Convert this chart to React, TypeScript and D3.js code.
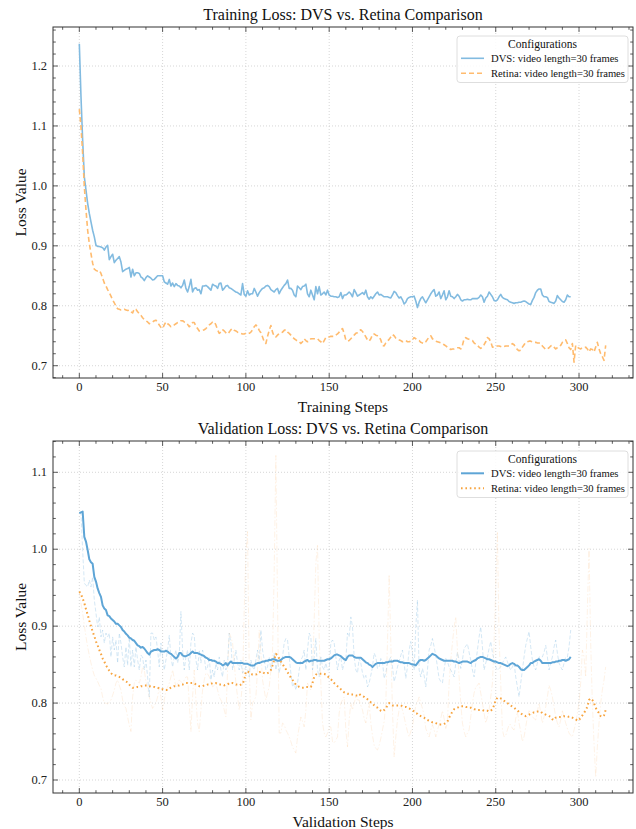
import React from 'react';
import * as d3 from 'd3';

// training loss per step (index = step)
const trainDvs = [
  1.237, 1.149, 1.076, 1.015, 0.993, 0.971, 0.954, 0.940, 0.926, 0.915,
  0.901, 0.899, 0.899, 0.898, 0.897, 0.893, 0.898, 0.901, 0.877, 0.882,
  0.886, 0.872, 0.876, 0.879, 0.882, 0.873, 0.857, 0.859, 0.861, 0.862,
  0.864, 0.848, 0.861, 0.850, 0.855, 0.855, 0.854, 0.848, 0.846, 0.842,
  0.847, 0.850, 0.848, 0.846, 0.843, 0.844, 0.847, 0.850, 0.850, 0.850,
  0.850, 0.840, 0.838, 0.836, 0.844, 0.833, 0.838, 0.832, 0.837, 0.834,
  0.833, 0.830, 0.834, 0.843, 0.829, 0.823, 0.832, 0.844, 0.823, 0.829,
  0.830, 0.826, 0.827, 0.820, 0.833, 0.833, 0.834, 0.832, 0.829, 0.826,
  0.836, 0.834, 0.833, 0.829, 0.837, 0.838, 0.826, 0.829, 0.833, 0.834,
  0.830, 0.829, 0.827, 0.825, 0.823, 0.822, 0.820, 0.818, 0.837, 0.819,
  0.816, 0.825, 0.818, 0.820, 0.820, 0.829, 0.823, 0.816, 0.822, 0.826,
  0.829, 0.830, 0.833, 0.834, 0.832, 0.827, 0.825, 0.823, 0.827, 0.829,
  0.820, 0.826, 0.830, 0.834, 0.837, 0.843, 0.829, 0.829, 0.826, 0.818,
  0.815, 0.833, 0.830, 0.827, 0.832, 0.833, 0.836, 0.820, 0.815, 0.826,
  0.818, 0.810, 0.832, 0.820, 0.832, 0.818, 0.820, 0.823, 0.818, 0.826,
  0.818, 0.816, 0.816, 0.815, 0.815, 0.814, 0.815, 0.822, 0.812, 0.818,
  0.818, 0.820, 0.823, 0.820, 0.815, 0.827, 0.822, 0.816,
  0.818, 0.820, 0.822, 0.819, 0.826, 0.815, 0.811, 0.815, 0.812, 0.816,
  0.820, 0.823, 0.818, 0.819, 0.817, 0.815, 0.815, 0.815, 0.814, 0.813,
  0.818, 0.824, 0.822, 0.817, 0.813, 0.815, 0.810, 0.803, 0.806, 0.812,
  0.814, 0.815, 0.815, 0.816, 0.808, 0.797, 0.806, 0.812, 0.815, 0.810,
  0.805, 0.810, 0.815, 0.820, 0.824, 0.827, 0.816, 0.818, 0.823, 0.812,
  0.818, 0.825, 0.810, 0.815, 0.825, 0.816, 0.815, 0.812, 0.815, 0.819,
  0.816, 0.810, 0.808, 0.810, 0.810, 0.811, 0.810, 0.810, 0.812, 0.812,
  0.812, 0.812, 0.814, 0.818, 0.815, 0.806, 0.813, 0.816, 0.823, 0.819,
  0.815, 0.809, 0.808, 0.810, 0.815, 0.819, 0.814, 0.812, 0.811, 0.810,
  0.807, 0.806, 0.805, 0.804, 0.805, 0.805, 0.806, 0.806, 0.807, 0.808,
  0.807, 0.805, 0.803, 0.802, 0.809, 0.814, 0.822, 0.826, 0.828, 0.828,
  0.818, 0.815, 0.815, 0.814, 0.807, 0.806, 0.805, 0.804, 0.808, 0.817,
  0.813, 0.810, 0.807, 0.806, 0.810, 0.818, 0.815, 0.815,
];

const trainRetina = [
  1.128, 1.099, 1.054, 0.999, 0.960, 0.926, 0.904, 0.887, 0.871, 0.861,
  0.859, 0.858, 0.859, 0.854, 0.846, 0.838, 0.833, 0.827, 0.822, 0.816,
  0.810, 0.805, 0.799, 0.795, 0.794, 0.793, 0.793, 0.794, 0.793, 0.792,
  0.793, 0.790, 0.788, 0.795, 0.794, 0.790, 0.787, 0.784, 0.780, 0.777,
  0.775, 0.773, 0.770, 0.772, 0.773, 0.775, 0.776, 0.772, 0.768, 0.764,
  0.762, 0.768, 0.773, 0.770, 0.768, 0.765, 0.766, 0.768, 0.770, 0.772,
  0.773, 0.775, 0.775, 0.773, 0.772, 0.769, 0.765, 0.768, 0.772, 0.772,
  0.766, 0.762, 0.758, 0.758, 0.759, 0.760, 0.762, 0.765, 0.768, 0.770,
  0.773, 0.773, 0.768, 0.760, 0.754, 0.756, 0.760, 0.758, 0.755, 0.753,
  0.756, 0.760, 0.762, 0.759, 0.758, 0.756, 0.755, 0.754, 0.753, 0.753,
  0.754, 0.753, 0.754, 0.756, 0.760, 0.765, 0.768, 0.765, 0.759, 0.755,
  0.748, 0.740, 0.737, 0.749, 0.759, 0.767, 0.756, 0.749, 0.748, 0.751,
  0.754, 0.755, 0.756, 0.759, 0.760, 0.756, 0.754, 0.751, 0.748, 0.745,
  0.743, 0.741, 0.740, 0.737, 0.740, 0.745, 0.742, 0.740, 0.741, 0.745,
  0.745, 0.745, 0.745, 0.745, 0.742, 0.740, 0.737, 0.742, 0.747, 0.748,
  0.748, 0.749, 0.749, 0.749, 0.751, 0.753, 0.756, 0.760, 0.762, 0.754,
  0.743, 0.741, 0.742, 0.745, 0.748, 0.751, 0.754, 0.755,
  0.758, 0.760, 0.757, 0.753, 0.748, 0.743, 0.741, 0.745, 0.752, 0.753,
  0.751, 0.750, 0.748, 0.743, 0.734, 0.733, 0.738, 0.741, 0.744, 0.748,
  0.752, 0.750, 0.746, 0.744, 0.743, 0.742, 0.740, 0.741, 0.742, 0.740,
  0.740, 0.741, 0.743, 0.747, 0.745, 0.743, 0.742, 0.739, 0.738, 0.737,
  0.740, 0.744, 0.748, 0.750, 0.745, 0.743, 0.741, 0.740, 0.739, 0.738,
  0.737, 0.735, 0.733, 0.731, 0.729, 0.727, 0.728, 0.728, 0.729, 0.730,
  0.730, 0.728, 0.734, 0.745, 0.747, 0.745, 0.744, 0.743, 0.742, 0.738,
  0.736, 0.734, 0.731, 0.729, 0.731, 0.735, 0.740, 0.747, 0.745, 0.740,
  0.731, 0.731, 0.732, 0.733, 0.733, 0.732, 0.731, 0.732, 0.733, 0.733,
  0.733, 0.734, 0.737, 0.735, 0.730, 0.727, 0.725, 0.726, 0.731, 0.735,
  0.739, 0.740, 0.741, 0.741, 0.740, 0.739, 0.739, 0.738, 0.738, 0.737,
  0.733, 0.730, 0.727, 0.728, 0.730, 0.733, 0.734, 0.731, 0.728, 0.730,
  0.731, 0.734, 0.739, 0.741, 0.743, 0.737, 0.730, 0.727, 0.737, 0.706,
  0.734, 0.731, 0.729, 0.728, 0.730, 0.730, 0.731, 0.728, 0.723, 0.728,
  0.727, 0.723, 0.731, 0.739, 0.728, 0.720, 0.715, 0.709, 0.734,
];

// validation loss per step: raw and smoothed
const valDvsRaw = [
  1.047, 1.047, 0.999, 0.956, 0.953, 0.951, 0.960, 0.951, 0.964, 0.934,
  0.917, 0.899, 0.912, 0.886, 0.895, 0.878, 0.891, 0.886, 0.891, 0.860,
  0.886, 0.869, 0.882, 0.852, 0.891, 0.878, 0.860, 0.847, 0.873, 0.849,
  0.886, 0.847, 0.869, 0.847, 0.873, 0.856, 0.843, 0.862, 0.860, 0.843,
  0.856, 0.834, 0.808, 0.891, 0.891, 0.882, 0.886, 0.869, 0.847, 0.878,
  0.860, 0.843, 0.856, 0.869, 0.888, 0.860, 0.847, 0.860, 0.869, 0.852,
  0.862, 0.919, 0.869, 0.843, 0.860, 0.869, 0.843, 0.878, 0.891, 0.888,
  0.856, 0.843, 0.869, 0.852, 0.869, 0.860, 0.843, 0.847, 0.860, 0.830,
  0.843, 0.834, 0.852, 0.843, 0.860, 0.843, 0.834, 0.856, 0.843, 0.852,
  0.891, 0.878, 0.843, 0.856, 0.869, 0.852, 0.843, 0.856, 0.839, 0.843,
  0.847, 0.843, 0.834, 0.856, 0.847, 0.843, 0.856, 0.869, 0.852, 0.895,
  0.869, 0.856, 0.843, 0.847, 0.860, 0.843, 0.852, 0.865, 0.843, 0.856,
  0.839, 0.852, 0.860, 0.878, 0.884, 0.882, 0.860, 0.839, 0.821, 0.826,
  0.817, 0.826, 0.843, 0.856, 0.860, 0.869, 0.843, 0.869, 0.891, 0.886,
  0.843, 0.860, 0.884, 0.843, 0.834, 0.860, 0.847, 0.843, 0.852, 0.843,
  0.843, 0.878, 0.882, 0.878, 0.860, 0.843, 0.856, 0.860, 0.843, 0.852,
  0.856, 0.891, 0.886, 0.912, 0.899, 0.860, 0.843, 0.839,
  0.858, 0.852, 0.839, 0.832, 0.836, 0.821, 0.826, 0.836, 0.847, 0.865,
  0.860, 0.845, 0.847, 0.858, 0.854, 0.832, 0.839, 0.852, 0.856, 0.860,
  0.847, 0.828, 0.836, 0.847, 0.854, 0.862, 0.869, 0.852, 0.832, 0.847,
  0.869, 0.880, 0.865, 0.843, 0.899, 0.934, 0.843, 0.834, 0.845, 0.836,
  0.821, 0.843, 0.869, 0.875, 0.884, 0.873, 0.862, 0.847, 0.832, 0.828,
  0.826, 0.843, 0.858, 0.854, 0.847, 0.843, 0.839, 0.834, 0.852, 0.866,
  0.856, 0.845, 0.856, 0.871, 0.874, 0.877, 0.866, 0.856, 0.843, 0.834,
  0.852, 0.869, 0.886, 0.899, 0.873, 0.843, 0.852, 0.860, 0.871, 0.880,
  0.866, 0.856, 0.847, 0.843, 0.845, 0.847, 0.852, 0.856, 0.860, 0.854,
  0.847, 0.843, 0.847, 0.852, 0.834, 0.821, 0.808, 0.826, 0.843, 0.860,
  0.875, 0.884, 0.893, 0.873, 0.856, 0.847, 0.843, 0.852, 0.860, 0.860,
  0.860, 0.866, 0.875, 0.860, 0.843, 0.852, 0.860, 0.873, 0.882, 0.865,
  0.852, 0.847, 0.843, 0.852, 0.860, 0.860, 0.873, 0.895,
];

const valDvsSmooth = [
  1.047, 1.048, 1.049, 1.016, 1.010, 0.999, 0.987, 0.983, 0.981, 0.964,
  0.958, 0.949, 0.943, 0.938, 0.927, 0.923, 0.921, 0.914, 0.913, 0.910,
  0.908, 0.906, 0.903, 0.903, 0.901, 0.899, 0.895, 0.893, 0.890, 0.888,
  0.885, 0.884, 0.882, 0.881, 0.878, 0.875, 0.874, 0.872, 0.873, 0.871,
  0.868, 0.865, 0.863, 0.867, 0.868, 0.869, 0.869, 0.870, 0.869, 0.867,
  0.867, 0.867, 0.868, 0.867, 0.865, 0.864, 0.862, 0.860, 0.858, 0.860,
  0.865, 0.865, 0.862, 0.861, 0.861, 0.862, 0.863, 0.865, 0.867, 0.865,
  0.865, 0.865, 0.864, 0.863, 0.862, 0.861, 0.859, 0.858, 0.856, 0.856,
  0.855, 0.855, 0.854, 0.852, 0.852, 0.851, 0.849, 0.850, 0.852, 0.849,
  0.852, 0.854, 0.852, 0.852, 0.852, 0.852, 0.852, 0.852, 0.852, 0.851,
  0.851, 0.851, 0.850, 0.849, 0.849, 0.849, 0.851, 0.852, 0.852, 0.853,
  0.854, 0.854, 0.855, 0.855, 0.856, 0.856, 0.857, 0.857, 0.856, 0.855,
  0.855, 0.856, 0.858, 0.859, 0.860, 0.860, 0.860, 0.859, 0.857, 0.855,
  0.853, 0.852, 0.852, 0.852, 0.852, 0.854, 0.855, 0.856, 0.854, 0.855,
  0.855, 0.856, 0.856, 0.855, 0.855, 0.855, 0.855, 0.855, 0.856, 0.857,
  0.857, 0.858, 0.860, 0.862, 0.863, 0.863, 0.862, 0.861, 0.859, 0.857,
  0.856, 0.860, 0.862, 0.862, 0.862, 0.860, 0.859, 0.859,
  0.859, 0.859, 0.857, 0.855, 0.853, 0.852, 0.850, 0.849, 0.847, 0.849,
  0.851, 0.852, 0.852, 0.852, 0.852, 0.852, 0.853, 0.853, 0.854, 0.854,
  0.854, 0.855, 0.855, 0.855, 0.854, 0.853, 0.853, 0.852, 0.852, 0.852,
  0.852, 0.851, 0.850, 0.850, 0.849, 0.852, 0.855, 0.856, 0.856, 0.855,
  0.856, 0.858, 0.860, 0.862, 0.864, 0.863, 0.862, 0.860, 0.858, 0.857,
  0.856, 0.855, 0.855, 0.855, 0.855, 0.855, 0.855, 0.854, 0.854, 0.853,
  0.852, 0.853, 0.854, 0.854, 0.854, 0.854, 0.853, 0.852, 0.854, 0.855,
  0.856, 0.858, 0.859, 0.860, 0.860, 0.859, 0.858, 0.857, 0.857, 0.856,
  0.855, 0.854, 0.854, 0.853, 0.852, 0.852, 0.851, 0.850, 0.849, 0.848,
  0.849, 0.851, 0.852, 0.851, 0.849, 0.849, 0.847, 0.844, 0.843, 0.843,
  0.845, 0.847, 0.849, 0.852, 0.852, 0.854, 0.855, 0.856, 0.857, 0.855,
  0.852, 0.852, 0.852, 0.852, 0.852, 0.852, 0.853, 0.853, 0.854, 0.854,
  0.855, 0.855, 0.856, 0.856, 0.855, 0.856, 0.857, 0.860,
];

const valRetinaRaw = [
  0.945, 0.930, 0.917, 0.901, 0.886, 0.873, 0.862, 0.852, 0.843, 0.836,
  0.832, 0.828, 0.823, 0.819, 0.808, 0.800, 0.800, 0.799, 0.801, 0.804,
  0.810, 0.817, 0.826, 0.830, 0.823, 0.817, 0.804, 0.797, 0.793, 0.782,
  0.771, 0.763, 0.808, 0.826, 0.830, 0.828, 0.826, 0.834, 0.847, 0.843,
  0.828, 0.819, 0.808, 0.800, 0.793, 0.797, 0.800, 0.808, 0.821, 0.808,
  0.791, 0.804, 0.817, 0.821, 0.826, 0.834, 0.843, 0.832, 0.821, 0.826,
  0.830, 0.828, 0.826, 0.830, 0.834, 0.834, 0.800, 0.763, 0.808, 0.843,
  0.804, 0.774, 0.763, 0.791, 0.817, 0.830, 0.839, 0.838, 0.834, 0.828,
  0.821, 0.823, 0.826, 0.817, 0.808, 0.804, 0.800, 0.791, 0.782, 0.843,
  0.891, 0.886, 0.878, 0.852, 0.826, 0.808, 0.791, 0.804, 0.826, 0.921,
  0.995, 1.023, 0.843, 0.778, 0.800, 0.804, 0.808, 0.843, 0.895, 0.865,
  0.830, 0.817, 0.804, 0.813, 0.821, 0.843, 0.865, 0.973, 1.122, 0.930,
  0.761, 0.761, 0.774, 0.772, 0.765, 0.761, 0.756, 0.750, 0.743, 0.739,
  0.735, 0.756, 0.769, 0.782, 0.776, 0.769, 0.791, 0.826, 0.821, 0.817,
  0.834, 0.908, 0.982, 1.005, 0.886, 0.826, 0.774, 0.761, 0.756, 0.761,
  0.769, 0.769, 0.750, 0.748, 0.752, 0.756, 0.787, 0.800, 0.804, 0.808,
  0.765, 0.743, 0.778, 0.800, 0.791, 0.800, 0.808, 0.804,
  0.804, 0.797, 0.791, 0.780, 0.774, 0.787, 0.800, 0.774, 0.758, 0.745,
  0.741, 0.739, 0.745, 0.754, 0.765, 0.776, 0.800, 0.878, 0.967, 0.878,
  0.791, 0.730, 0.756, 0.778, 0.791, 0.797, 0.791, 0.782, 0.772, 0.763,
  0.756, 0.763, 0.769, 0.784, 0.797, 0.801, 0.808, 0.800, 0.793, 0.784,
  0.767, 0.761, 0.756, 0.765, 0.772, 0.765, 0.756, 0.765, 0.772, 0.780,
  0.790, 0.780, 0.767, 0.774, 0.826, 0.856, 0.878, 0.899, 0.912, 0.869,
  0.834, 0.800, 0.774, 0.763, 0.756, 0.761, 0.765, 0.782, 0.800, 0.813,
  0.821, 0.823, 0.826, 0.813, 0.800, 0.787, 0.774, 0.782, 0.791, 0.808,
  0.826, 0.878, 0.951, 1.023, 0.886, 0.826, 0.765, 0.756, 0.758, 0.765,
  0.772, 0.772, 0.767, 0.765, 0.780, 0.789, 0.774, 0.763, 0.750, 0.756,
  0.769, 0.782, 0.790, 0.787, 0.782, 0.780, 0.778, 0.789, 0.800, 0.787,
  0.774, 0.782, 0.795, 0.808, 0.823, 0.817, 0.808, 0.795, 0.782, 0.774,
  0.769, 0.778, 0.790, 0.782, 0.774, 0.767, 0.761, 0.758, 0.756, 0.765,
  0.774, 0.787, 0.800, 0.826, 0.869, 0.860, 0.834, 0.921, 1.001, 0.878,
  0.800, 0.748, 0.704, 0.743, 0.774, 0.800, 0.817, 0.830, 0.847,
];

const valRetinaSmooth = [
  0.945, 0.942, 0.936, 0.930, 0.922, 0.915, 0.907, 0.900, 0.893, 0.887,
  0.880, 0.875, 0.869, 0.864, 0.858, 0.854, 0.849, 0.846, 0.842, 0.839,
  0.837, 0.836, 0.836, 0.835, 0.834, 0.833, 0.831, 0.830, 0.828, 0.827,
  0.824, 0.822, 0.820, 0.820, 0.820, 0.821, 0.821, 0.822, 0.822, 0.823,
  0.823, 0.823, 0.822, 0.822, 0.821, 0.821, 0.820, 0.820, 0.819, 0.818,
  0.818, 0.817, 0.817, 0.817, 0.819, 0.820, 0.821, 0.822, 0.822, 0.823,
  0.823, 0.824, 0.824, 0.825, 0.826, 0.826, 0.826, 0.826, 0.826, 0.826,
  0.824, 0.823, 0.822, 0.822, 0.822, 0.823, 0.823, 0.824, 0.824, 0.825,
  0.826, 0.826, 0.826, 0.825, 0.824, 0.824, 0.824, 0.823, 0.824, 0.824,
  0.826, 0.826, 0.826, 0.825, 0.824, 0.824, 0.823, 0.824, 0.825, 0.830,
  0.841, 0.841, 0.840, 0.838, 0.837, 0.837, 0.837, 0.839, 0.840, 0.841,
  0.840, 0.839, 0.838, 0.839, 0.840, 0.843, 0.849, 0.856, 0.864, 0.862,
  0.858, 0.854, 0.851, 0.847, 0.844, 0.840, 0.837, 0.833, 0.830, 0.827,
  0.824, 0.823, 0.821, 0.820, 0.820, 0.820, 0.821, 0.821, 0.821, 0.821,
  0.826, 0.834, 0.837, 0.838, 0.838, 0.838, 0.838, 0.838, 0.837, 0.835,
  0.833, 0.831, 0.829, 0.826, 0.824, 0.822, 0.820, 0.818, 0.816, 0.814,
  0.813, 0.812, 0.812, 0.811, 0.811, 0.811, 0.810, 0.810,
  0.812, 0.810, 0.809, 0.808, 0.806, 0.805, 0.803, 0.801, 0.800, 0.797,
  0.795, 0.794, 0.792, 0.790, 0.789, 0.791, 0.793, 0.797, 0.800, 0.798,
  0.797, 0.797, 0.797, 0.797, 0.797, 0.797, 0.796, 0.795, 0.795, 0.794,
  0.793, 0.792, 0.791, 0.789, 0.787, 0.786, 0.784, 0.783, 0.782, 0.781,
  0.779, 0.778, 0.777, 0.776, 0.775, 0.775, 0.774, 0.773, 0.772, 0.772,
  0.772, 0.773, 0.774, 0.776, 0.781, 0.785, 0.789, 0.792, 0.793, 0.794,
  0.795, 0.796, 0.796, 0.796, 0.795, 0.795, 0.794, 0.794, 0.793, 0.792,
  0.792, 0.791, 0.791, 0.791, 0.791, 0.790, 0.790, 0.790, 0.789, 0.790,
  0.792, 0.797, 0.804, 0.807, 0.807, 0.806, 0.805, 0.803, 0.801, 0.800,
  0.798, 0.797, 0.795, 0.794, 0.792, 0.791, 0.788, 0.787, 0.785, 0.784,
  0.783, 0.784, 0.785, 0.786, 0.787, 0.788, 0.788, 0.789, 0.789, 0.789,
  0.787, 0.786, 0.785, 0.784, 0.783, 0.782, 0.779, 0.778, 0.781, 0.781,
  0.782, 0.782, 0.782, 0.783, 0.783, 0.783, 0.782, 0.782, 0.781, 0.780,
  0.779, 0.777, 0.778, 0.781, 0.784, 0.787, 0.791, 0.795, 0.804, 0.806,
  0.804, 0.800, 0.794, 0.790, 0.787, 0.783, 0.782, 0.784, 0.791,
];

const xTicks = [0, 50, 100, 150, 200, 250, 300];
const trainYTicks = [0.7, 0.8, 0.9, 1.0, 1.1, 1.2];
const valYTicks = [0.7, 0.8, 0.9, 1.0, 1.1];
const legendTitle = 'Configurations';
const dvsLabel = 'DVS: video length=30 frames';
const retinaLabel = 'Retina: video length=30 frames';

const FONT = '"Liberation Serif", "Times New Roman", serif';
const W = 636;
const H = 829;
const LEFT = 53;
const RIGHT = 633;

type Series = {
  values: number[];
  color: string;
  width: number;
  dash?: string;
  opacity?: number;
  label?: string;
};

type PanelProps = {
  id: string;
  top: number;
  bottom: number;
  yDomain: [number, number];
  yTicks: number[];
  title: string;
  xLabel: string;
  series: Series[];
  legendTop: number;
};

function Panel({ id, top, bottom, yDomain, yTicks, title, xLabel, series, legendTop }: PanelProps) {
  const x = d3.scaleLinear().domain([-15.8, 332.4]).range([LEFT, RIGHT]);
  const y = d3.scaleLinear().domain(yDomain).range([bottom, top]);
  const line = d3.line<number>().x((d, i) => x(i)).y(d => y(d));

  const xMinor = d3.range(-10, 331, 10).filter(v => v % 50 !== 0);
  const kMin = Math.ceil(yDomain[0] / 0.02);
  const kMax = Math.floor(yDomain[1] / 0.02);
  const yMinor = d3.range(kMin, kMax + 1).filter(k => k % 5 !== 0).map(k => k * 0.02);

  const majorLen = 5;
  const minorLen = 2.8;
  const tickColor = '#333';
  const legendItems = series.filter(s => s.label);
  const midY = (top + bottom) / 2;
  const midX = (LEFT + RIGHT) / 2;

  return (
    <g>
      <defs>
        <clipPath id={`clip-${id}`}>
          <rect x={LEFT} y={top} width={RIGHT - LEFT} height={bottom - top} />
        </clipPath>
      </defs>

      {/* grid */}
      <g stroke="#cccccc" strokeWidth={0.8} strokeDasharray="1,2">
        {xTicks.map(t => (
          <line key={`gx${t}`} x1={x(t)} x2={x(t)} y1={top} y2={bottom} />
        ))}
        {yTicks.map(t => (
          <line key={`gy${t}`} x1={LEFT} x2={RIGHT} y1={y(t)} y2={y(t)} />
        ))}
      </g>

      {/* series */}
      <g clipPath={`url(#clip-${id})`} fill="none">
        {series.map((s, i) => (
          <path
            key={i}
            d={line(s.values) || ''}
            stroke={s.color}
            strokeWidth={s.width}
            strokeDasharray={s.dash}
            strokeOpacity={s.opacity ?? 1}
            strokeLinejoin="round"
          />
        ))}
      </g>

      {/* frame */}
      <rect x={LEFT} y={top} width={RIGHT - LEFT} height={bottom - top} fill="none" stroke={tickColor} strokeWidth={1} />

      {/* ticks, inward on all sides */}
      <g stroke={tickColor} strokeWidth={0.8}>
        {xTicks.map(t => (
          <g key={`tx${t}`}>
            <line x1={x(t)} x2={x(t)} y1={bottom} y2={bottom - majorLen} />
            <line x1={x(t)} x2={x(t)} y1={top} y2={top + majorLen} />
          </g>
        ))}
        {xMinor.map(t => (
          <g key={`mx${t}`}>
            <line x1={x(t)} x2={x(t)} y1={bottom} y2={bottom - minorLen} />
            <line x1={x(t)} x2={x(t)} y1={top} y2={top + minorLen} />
          </g>
        ))}
        {yTicks.map(t => (
          <g key={`ty${t}`}>
            <line x1={LEFT} x2={LEFT + majorLen} y1={y(t)} y2={y(t)} />
            <line x1={RIGHT} x2={RIGHT - majorLen} y1={y(t)} y2={y(t)} />
          </g>
        ))}
        {yMinor.map(t => (
          <g key={`my${t}`}>
            <line x1={LEFT} x2={LEFT + minorLen} y1={y(t)} y2={y(t)} />
            <line x1={RIGHT} x2={RIGHT - minorLen} y1={y(t)} y2={y(t)} />
          </g>
        ))}
      </g>

      {/* tick labels */}
      <g fontFamily={FONT} fontSize={12.5} fill="#222">
        {xTicks.map(t => (
          <text key={`lx${t}`} x={x(t)} y={bottom + 9} textAnchor="middle" dominantBaseline="central">
            {t}
          </text>
        ))}
        {yTicks.map(t => (
          <text key={`ly${t}`} x={LEFT - 6} y={y(t)} textAnchor="end" dominantBaseline="central">
            {d3.format('.1f')(t)}
          </text>
        ))}
      </g>

      {/* title and axis labels */}
      <text x={midX} y={top - 12.5} textAnchor="middle" dominantBaseline="central" fontFamily={FONT} fontSize={16} fill="#111">
        {title}
      </text>
      <text x={midX} y={bottom + 28} textAnchor="middle" dominantBaseline="central" fontFamily={FONT} fontSize={15.5} fill="#111">
        {xLabel}
      </text>
      <text
        transform={`translate(20,${midY}) rotate(-90)`}
        textAnchor="middle"
        dominantBaseline="central"
        fontFamily={FONT}
        fontSize={15.5}
        fill="#111"
      >
        Loss Value
      </text>

      {/* legend */}
      <g transform={`translate(457,${legendTop})`}>
        <rect x={0} y={0} width={171} height={46.5} rx={3} fill="#fff" fillOpacity={0.85} stroke="#d6d6d6" strokeWidth={0.8} />
        <text x={85.5} y={7.5} textAnchor="middle" dominantBaseline="central" fontFamily={FONT} fontSize={11.5} fill="#111">
          {legendTitle}
        </text>
        {legendItems.map((s, i) => (
          <g key={i} transform={`translate(0,${22.3 + i * 15})`}>
            <line x1={4} x2={27} y1={0} y2={0} stroke={s.color} strokeWidth={s.width} strokeDasharray={s.dash} />
            <text x={34} y={0} dominantBaseline="central" fontFamily={FONT} fontSize={10.6} fill="#111">
              {s.label}
            </text>
          </g>
        ))}
      </g>
    </g>
  );
}

export default function App() {
  const trainSeries: Series[] = [
    { values: trainDvs, color: '#82bbe0', width: 1.6, label: dvsLabel },
    { values: trainRetina, color: '#ffbb6e', width: 1.6, dash: '5,3', label: retinaLabel },
  ];
  const valSeries: Series[] = [
    { values: valDvsRaw, color: '#9cc9e8', width: 1, dash: '4,2', opacity: 0.42 },
    { values: valRetinaRaw, color: '#fcc58c', width: 1, dash: '6,2,1.5,2', opacity: 0.22 },
    { values: valDvsSmooth, color: '#5ea5d6', width: 2, label: dvsLabel },
    { values: valRetinaSmooth, color: '#f7a43f', width: 2, dash: '1.6,2.8', label: retinaLabel },
  ];

  return (
    <svg width={W} height={H} style={{ position: 'absolute', left: 0, top: 0, background: '#fff' }}>
      <rect width={W} height={H} fill="#fff" />
      <Panel
        id="train"
        top={27}
        bottom={378}
        yDomain={[0.6795, 1.2651]}
        yTicks={trainYTicks}
        title="Training Loss: DVS vs. Retina Comparison"
        xLabel="Training Steps"
        series={trainSeries}
        legendTop={36}
      />
      <Panel
        id="val"
        top={441}
        bottom={793}
        yDomain={[0.6831, 1.1407]}
        yTicks={valYTicks}
        title="Validation Loss: DVS vs. Retina Comparison"
        xLabel="Validation Steps"
        series={valSeries}
        legendTop={451}
      />
    </svg>
  );
}
